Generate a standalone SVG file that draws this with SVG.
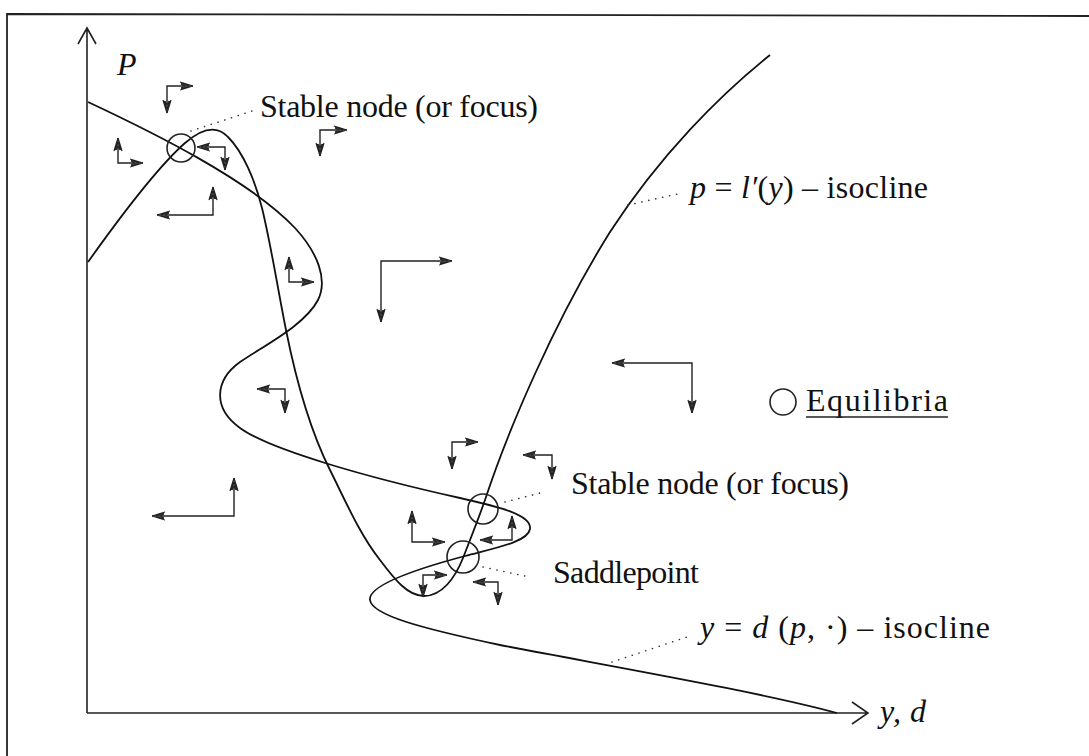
<svg xmlns="http://www.w3.org/2000/svg" width="1089" height="756" viewBox="0 0 1089 756">
<style>
.frame{fill:none;stroke:#222;stroke-width:1.8}
.axis{fill:none;stroke:#222;stroke-width:1.6}
.curve{fill:none;stroke:#111;stroke-width:1.8}
.eq{fill:none;stroke:#222;stroke-width:1.6}
.lead{fill:none;stroke:#333;stroke-width:1.6;stroke-dasharray:0.1 7;stroke-linecap:round}
.flow{fill:none;stroke:#222;stroke-width:1.4;marker-start:url(#fh);marker-end:url(#fh)}
text{font-family:"Liberation Serif","Times New Roman",serif;font-size:32px;fill:#111}
.it{font-style:italic}
</style>
<defs>
<marker id="fh" viewBox="-15 -6 17 12" refX="0" refY="0" markerWidth="17" markerHeight="12" orient="auto-start-reverse" markerUnits="userSpaceOnUse">
<path d="M0,0 L-13,-4 M0,0 L-13,4 M-4,0 L-12,-3 M-4,0 L-12,3 M-8,0 L-12,-2 M-8,0 L-12,2" fill="none" stroke="#222" stroke-width="1.2"/>
</marker>
</defs>
<g id="frame">
<path class="frame" d="M7,756 L7,14 L1089,16"/>
</g>
<g id="axes">
<path class="axis" d="M87,713 L87,28 M78,44 L87,28 L96,44"/>
<path class="axis" d="M87,713 L868,713 M852,702 L868,713 L852,724"/>
<text class="it" x="117" y="75" font-size="30">P</text>
<text class="it" x="880" y="722" textLength="46" font-size="30">y, d</text>
</g>
<g id="connectors">
<path id="demand-isocline" class="curve" d="M88,102 C150,131 250,180 295,228 C318,253 328,280 318,300 C305,325 265,345 240,362 C215,380 212,408 240,428 C270,450 370,478 460,498 C500,507 532,515 530,529 C528,542 495,548 465,556 C420,568 368,585 370,600 C372,615 420,628 500,645 C620,668 760,692 837,713"/>
<path id="l-isocline" class="curve" d="M88,262 C125,210 160,165 185,143 C200,130 216,124 228,137 C243,152 255,180 262,208 C271,245 278,290 286,330 C295,375 310,430 330,470 C345,500 360,535 380,560 C395,580 408,596 424,596 C442,596 455,578 463,558 C472,535 478,520 485,500 C508,430 555,320 610,232 C660,155 720,95 770,55"/>
<path class="lead" d="M191,131 L252,111"/>
<path class="lead" d="M505,502 L540,493"/>
<path class="lead" d="M483,567 L525,576"/>
<path class="lead" d="M628,205 L682,193"/>
<path class="lead" d="M612,662 L690,636"/>
</g>
<g id="flow-arrows">
<path class="flow" d="M193,86 L167,86 L167,113"/>
<path class="flow" d="M143,163 L118,163 L118,138"/>
<path class="flow" d="M197,147 L225,147 L225,170"/>
<path class="flow" d="M157,215 L213,215 L213,187"/>
<path class="flow" d="M347,130 L320,130 L320,156"/>
<path class="flow" d="M314,282 L289,282 L289,257"/>
<path class="flow" d="M452,261 L381,261 L381,322"/>
<path class="flow" d="M257,389 L285,389 L285,413"/>
<path class="flow" d="M478,442 L452,442 L452,469"/>
<path class="flow" d="M523,455 L552,455 L552,479"/>
<path class="flow" d="M445,542 L412,542 L412,511"/>
<path class="flow" d="M480,540 L512,540 L512,516"/>
<path class="flow" d="M447,575 L423,575 L423,597"/>
<path class="flow" d="M473,582 L498,582 L498,605"/>
<path class="flow" d="M152,516 L234,516 L234,478"/>
<path class="flow" d="M612,363 L692,363 L692,413"/>
</g>
<g id="eq-stable-top">
<circle class="eq" cx="181" cy="148" r="14"/>
<text x="260" y="117" textLength="278">Stable node (or focus)</text>
</g>
<g id="eq-stable-bottom">
<circle class="eq" cx="483" cy="509" r="15"/>
<text x="571" y="494" textLength="278">Stable node (or focus)</text>
</g>
<g id="eq-saddle">
<circle class="eq" cx="463" cy="557" r="16"/>
<text x="553" y="583" textLength="146">Saddlepoint</text>
</g>
<g id="label-l-isocline">
<text x="690" y="198" textLength="238"><tspan class="it">p</tspan> = <tspan class="it">l′</tspan>(<tspan class="it">y</tspan>) – isocline</text>
</g>
<g id="label-d-isocline">
<text x="700" y="638" textLength="290"><tspan class="it">y</tspan> = <tspan class="it">d</tspan> (<tspan class="it">p</tspan>, ·) – isocline</text>
</g>
<g id="legend">
<circle class="eq" cx="783" cy="402" r="13"/>
<text x="806" y="411" textLength="142">Equilibria</text>
<line x1="806" y1="417" x2="948" y2="417" stroke="#222" stroke-width="1.4"/>
</g>
</svg>
